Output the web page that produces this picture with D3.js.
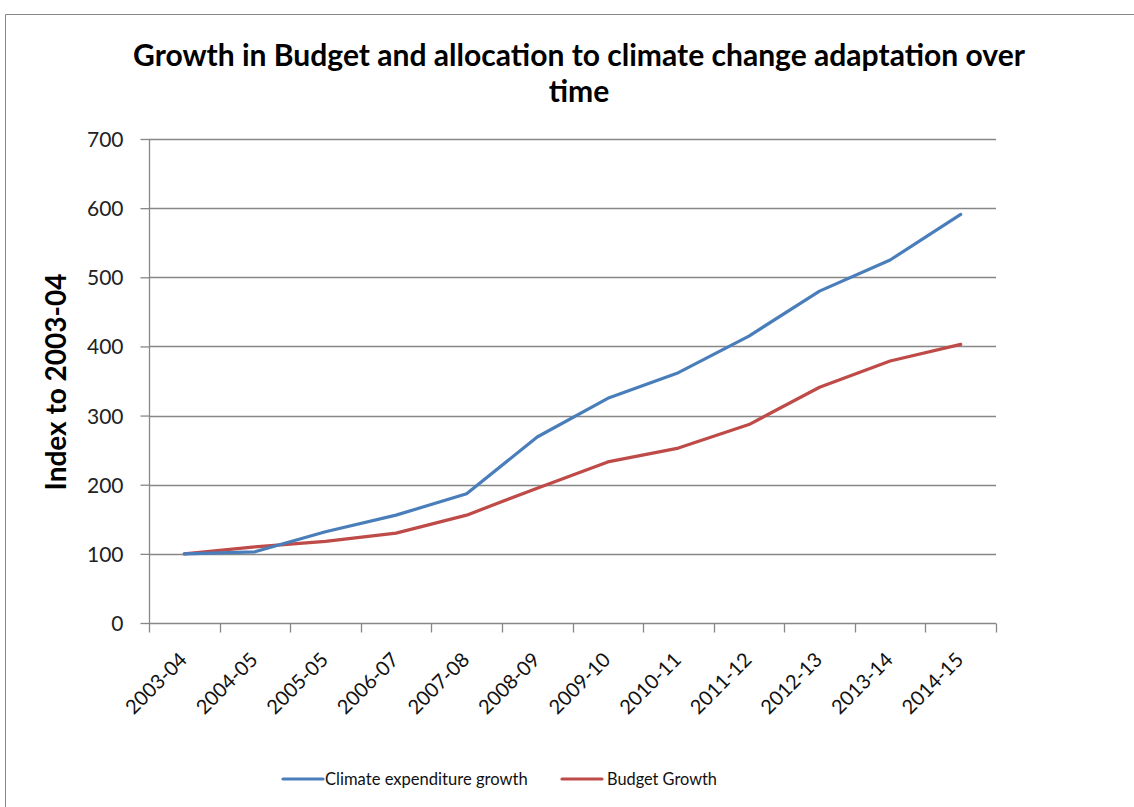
<!DOCTYPE html>
<html><head><meta charset="utf-8">
<script src="https://cdn.jsdelivr.net/npm/d3@7/dist/d3.min.js"></script>
<style>body{margin:0;background:#fff}svg{display:block}</style>
</head><body>
<script>
const categories = ["2003-04","2004-05","2005-05","2006-07","2007-08","2008-09","2009-10","2010-11","2011-12","2012-13","2013-14","2014-15"];
const climateGrowth = [100,103,132,156,187,269,325,362,415,480,525,591];
const budgetGrowth = [100,110,118,130,156,195,233,253,287,341,379,403];
const yTicks = [0,100,200,300,400,500,600,700];
const seriesNames = ["Climate expenditure growth","Budget Growth"];
const titleLines = ["Growth in Budget and allocation to climate change adaptation over","time"];
const yLabel = "Index to 2003-04";

const W=1134,H=807;
const FONT="Lato, 'Open Sans', sans-serif";
const svg=d3.select("body").append("svg").attr("width",W).attr("height",H);
svg.append("rect").attr("width",W).attr("height",H).attr("fill","#fff");
svg.append("path").attr("d","M5.5,807 V14.5 H1134").attr("fill","none").attr("stroke","#888").attr("stroke-width",1);

const m={l:149,r:996,t:139,b:623};
const x=d3.scaleBand().domain(categories).range([m.l,m.r]);
const y=d3.scaleLinear().domain([0,700]).range([m.b,m.t]);

function fit(sel,target){const w=sel.node().getComputedTextLength();const fs=parseFloat(sel.attr("font-size"));sel.attr("font-size",fs*target/w);}

// title
const t1=svg.append("text").attr("x",579).attr("y",66).attr("text-anchor","middle").attr("font-family",FONT).attr("font-weight","bold").attr("font-size",22).attr("fill","#000").text(titleLines[0]);
fit(t1,892);
svg.append("text").attr("x",579).attr("y",102).attr("text-anchor","middle").attr("font-family",FONT).attr("font-weight","bold").attr("font-size",t1.attr("font-size")).attr("fill","#000").text(titleLines[1]);

// gridlines
const grid=svg.append("g");
grid.selectAll("line").data(yTicks.filter(d=>d>0)).join("line")
 .attr("x1",m.l).attr("x2",m.r).attr("y1",d=>Math.round(y(d))+0.5).attr("y2",d=>Math.round(y(d))+0.5)
 .attr("stroke","#878787").attr("stroke-width",1.3);

// y axis
const ya=svg.append("g").attr("transform",`translate(${m.l+0.5},0)`).call(d3.axisLeft(y).tickValues(yTicks).tickSize(9).tickPadding(17));
ya.select(".domain").attr("stroke","#878787").attr("stroke-width",1.3).attr("d",`M0,${y(700)}V${y(0)}`);
ya.selectAll(".tick line").attr("stroke","#878787").attr("stroke-width",1.3);
ya.selectAll("text").attr("font-family",FONT).attr("font-size",21).attr("fill","#222").attr("dy","0.36em");

// x axis
const xa=svg.append("g").attr("transform",`translate(0,${Math.round(y(0))+0.5})`).call(d3.axisBottom(x).tickSize(0).tickFormat(""));
xa.select(".domain").attr("stroke","#878787").attr("stroke-width",1.3).attr("d",`M${m.l},0H${m.r}`);
const edges=categories.map(c=>x(c)).concat([m.r]);
xa.selectAll(".edge").data(edges).join("line").attr("x1",d=>Math.round(d)+0.5).attr("x2",d=>Math.round(d)+0.5).attr("y1",0).attr("y2",9).attr("stroke","#878787").attr("stroke-width",1.3);
svg.append("g").selectAll("text").data(categories).join("text")
 .attr("transform",d=>`translate(${x(d)+x.bandwidth()/2+4},${y(0)+38}) rotate(-45)`)
 .attr("text-anchor","end").attr("font-family",FONT).attr("font-size",20).attr("fill","#111").text(d=>d);

// y label
const yl=svg.append("text").attr("transform",`translate(66,382) rotate(-90)`).attr("text-anchor","middle")
 .attr("font-family",FONT).attr("font-weight","bold").attr("font-size",22).attr("fill","#000").text(yLabel);
fit(yl,217);

// lines
const colors=["#4A7EBB","#BE4B48"];
const data=[climateGrowth,budgetGrowth];
const line=d3.line().x((d,i)=>x(categories[i])+x.bandwidth()/2).y(d=>y(d));
[1,0].forEach(k=>{
 svg.append("path").datum(data[k]).attr("d",line).attr("fill","none").attr("stroke",colors[k]).attr("stroke-width",3.2).attr("stroke-linejoin","round").attr("stroke-linecap","round");
});

// legend
const leg=[{x:283,tx:325,w:203},{x:562,tx:607,w:110}];
seriesNames.forEach((n,i)=>{
 svg.append("line").attr("x1",leg[i].x).attr("x2",leg[i].x+40).attr("y1",779).attr("y2",779).attr("stroke",colors[i]).attr("stroke-width",3.2).attr("stroke-linecap","round");
 const tt=svg.append("text").attr("x",leg[i].tx).attr("y",785).attr("font-family",FONT).attr("font-size",17).attr("fill","#111").text(n);
 fit(tt,leg[i].w);
});
</script>
</body></html>
